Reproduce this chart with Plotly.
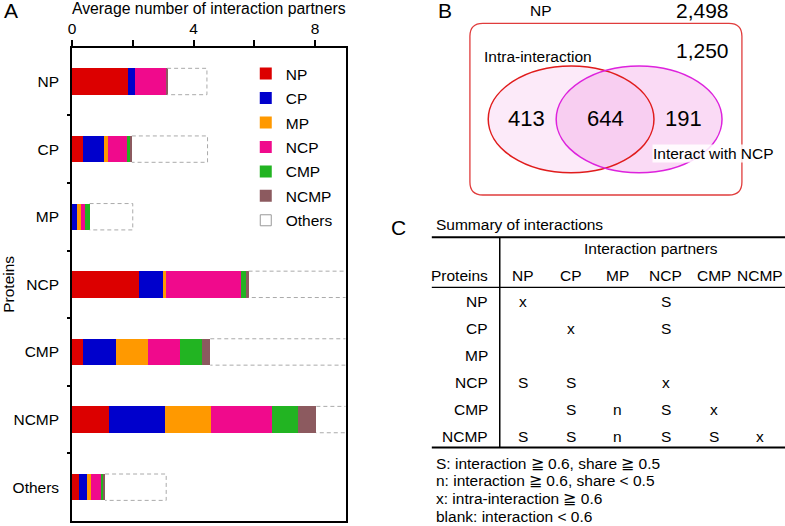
import plotly.graph_objects as go

W, H = 785, 526
FONT = "Liberation Sans, Arial, sans-serif"


def px(x):
    return x / W


def py(y):
    return 1 - y / H


# ---------------- Data: panel A ----------------
categories = ["NP", "CP", "MP", "NCP", "CMP", "NCMP", "Others"]
series_names = ["NP", "CP", "MP", "NCP", "CMP", "NCMP"]
series_colors = ["#dc0000", "#0000cc", "#ff9900", "#f00a8c", "#22b422", "#8c5a5f"]
np_vals = [1.86, 0.35, 0.00, 2.19, 0.35, 1.21, 0.22]
cp_vals = [0.20, 0.69, 0.15, 0.79, 1.11, 1.85, 0.29]
mp_vals = [0.00, 0.14, 0.15, 0.12, 1.05, 1.50, 0.13]
ncp_vals = [1.04, 0.63, 0.12, 2.47, 1.06, 2.03, 0.32]
cmp_vals = [0.00, 0.13, 0.16, 0.14, 0.71, 0.84, 0.07]
ncmp_vals = [0.03, 0.03, 0.00, 0.10, 0.27, 0.61, 0.06]
others_vals = [1.31, 2.49, 1.42, 3.60, 4.90, 1.30, 2.01]
x_tickvals = [0, 2, 4, 6, 8]
x_ticktext = ["0", "", "4", "", "8"]

# ---------------- Data: panel B ----------------
venn_np_total = 2498
venn_subset_total = 1250
venn_counts = [413, 644, 191]
venn_labels = ["Intra-interaction", "Interact with NCP"]

# ---------------- Data: panel C ----------------
table_title = "Summary of interactions"
table_header = "Interaction partners"
table_cols = ["NP", "CP", "MP", "NCP", "CMP", "NCMP"]
table_rows = ["NP", "CP", "MP", "NCP", "CMP", "NCMP"]
table_cells = [
    ["x", "", "", "S", "", ""],
    ["", "x", "", "S", "", ""],
    ["", "", "", "", "", ""],
    ["S", "S", "", "x", "", ""],
    ["", "S", "n", "S", "x", ""],
    ["S", "S", "n", "S", "S", "x"],
]
table_notes = [
    "S: interaction ≧ 0.6, share ≧ 0.5",
    "n: interaction ≧ 0.6, share &lt; 0.5",
    "x: intra-interaction ≧ 0.6",
    "blank: interaction &lt; 0.6",
]

series_values = [np_vals, cp_vals, mp_vals, ncp_vals, cmp_vals, ncmp_vals]

fig = go.Figure()
y_pos = list(range(len(categories)))
bar_w = 0.39

for name, color, vals in zip(series_names, series_colors, series_values):
    fig.add_trace(go.Bar(
        orientation="h", y=y_pos, x=vals, name=name, width=bar_w,
        marker=dict(color=color, line=dict(width=0)), legendgroup=name,
    ))

# Others: dashed open boxes after the stacked segments
bases = [sum(v[i] for v in series_values) for i in range(len(categories))]
xs, ys = [], []
h = bar_w / 2
for i, (b, o) in enumerate(zip(bases, others_vals)):
    e = b + o
    xs += [b, e, e, b, None]
    ys += [i - h, i - h, i + h, i + h, None]
fig.add_trace(go.Scatter(
    x=xs, y=ys, mode="lines", showlegend=False, hoverinfo="skip",
    line=dict(color="#aaaaaa", width=1, dash="4px,3px"),
))
fig.add_trace(go.Scatter(
    x=[None], y=[None], mode="markers", name="Others", legendgroup="Others",
    marker=dict(symbol="square-open", size=11, color="#999999", line=dict(width=1)),
))

fig.update_layout(
    width=W, height=H,
    margin=dict(l=0, r=0, t=0, b=0),
    paper_bgcolor="white", plot_bgcolor="white",
    font=dict(family=FONT, size=15.5, color="black"),
    barmode="stack",
    showlegend=True,
    legend=dict(x=px(243), y=py(57), xanchor="left", yanchor="top",
                font=dict(size=15.5), bgcolor="rgba(0,0,0,0)",
                traceorder="grouped", tracegroupgap=1.3),
    xaxis=dict(
        domain=[px(68.3), px(343.3)], range=[0, 9], side="top",
        tickmode="array", tickvals=x_tickvals, ticktext=x_ticktext,
        ticks="outside", ticklen=6, tickwidth=1.5, tickcolor="black",
        showline=True, linewidth=1.5, linecolor="black", mirror=True,
        showgrid=False, zeroline=False, tickfont=dict(size=15.5),
        title=dict(text="Average number of interaction partners",
                   font=dict(size=15.8), standoff=6),
    ),
    yaxis=dict(
        domain=[py(521), py(47.7)], range=[6.5, -0.5],
        tickmode="array", tickvals=y_pos, ticktext=categories,
        ticks="outside", ticklen=8, tickcolor="rgba(0,0,0,0)",
        minor=dict(tickmode="array", tickvals=[i + 0.5 for i in range(6)],
                   ticks="outside", ticklen=3, tickwidth=1.5, tickcolor="black"),
        showline=True, linewidth=1.5, linecolor="black", mirror=True,
        showgrid=False, zeroline=False, tickfont=dict(size=15.5),
        title=dict(text="Proteins", font=dict(size=15.5), standoff=2),
    ),
)

shapes = []
annos = []


def text(x, y, s, size=15.5, xanchor="center", **kw):
    annos.append(dict(x=px(x), y=py(y), xref="paper", yref="paper", text=s,
                      showarrow=False, xanchor=xanchor, yanchor="middle",
                      font=dict(size=size, family=FONT, color="black"), **kw))


# panel letters
text(7.5, 10, "A", size=21)
text(443, 10, "B", size=21)
text(397, 228, "C", size=21)

# ---------------- Panel B: Venn ----------------
x0, x1, y0, y1, r = 468.3, 741.7, 23.3, 195, 13


def P(x, y):
    return f"{px(x):.5f},{py(y):.5f}"


path = (f"M {P(x0 + r, y0)} L {P(x1 - r, y0)} Q {P(x1, y0)} {P(x1, y0 + r)} "
        f"L {P(x1, y1 - r)} Q {P(x1, y1)} {P(x1 - r, y1)} L {P(x0 + r, y1)} "
        f"Q {P(x0, y1)} {P(x0, y1 - r)} L {P(x0, y0 + r)} Q {P(x0, y0)} {P(x0 + r, y0)} Z")
shapes.append(dict(type="path", path=path, xref="paper", yref="paper",
                   line=dict(color="#e03c3c", width=1.3), fillcolor="white"))

ell = [(486.7, 653.3, 66, 172.7, "rgba(246,196,238,0.35)", "#e01c1c"),
       (555, 721.7, 66, 172.7, "rgba(243,168,232,0.42)", "#dd22dd")]
for ex0, ex1, ey0, ey1, fc, lc in ell:
    shapes.append(dict(type="circle", xref="paper", yref="paper",
                       x0=px(ex0), x1=px(ex1), y0=py(ey1), y1=py(ey0),
                       fillcolor=fc, line=dict(width=0)))
for ex0, ex1, ey0, ey1, fc, lc in ell:
    shapes.append(dict(type="circle", xref="paper", yref="paper",
                       x0=px(ex0), x1=px(ex1), y0=py(ey1), y1=py(ey0),
                       fillcolor="rgba(0,0,0,0)", line=dict(width=1.5, color=lc)))

text(540, 10, "NP")
text(701.7, 10.5, f"{venn_np_total:,}", size=21)
text(701.7, 50, f"{venn_subset_total:,}", size=21)
text(536.7, 57, venn_labels[0])
for cx, c in zip([525, 605, 683.3], venn_counts):
    text(cx, 118.5, str(c), size=22)
text(713, 154, venn_labels[1], bgcolor="rgba(255,255,255,0.85)", borderpad=0)

# ---------------- Panel C: table ----------------
text(431.7, 224, table_title, xanchor="left")
shapes.append(dict(type="line", xref="paper", yref="paper", x0=px(430), x1=px(785),
                   y0=py(237.3), y1=py(237.3), line=dict(color="black", width=2)))
shapes.append(dict(type="line", xref="paper", yref="paper", x0=px(430), x1=px(785),
                   y0=py(287.3), y1=py(287.3), line=dict(color="black", width=1.2)))
shapes.append(dict(type="line", xref="paper", yref="paper", x0=px(430), x1=px(785),
                   y0=py(447.5), y1=py(447.5), line=dict(color="black", width=2)))
shapes.append(dict(type="line", xref="paper", yref="paper", x0=px(498.3), x1=px(498.3),
                   y0=py(237.3), y1=py(447.5), line=dict(color="black", width=1.5)))
text(650, 248, table_header)
col_x = [521.7, 570, 616.7, 665, 713.3, 760]
text(488.5, 275, "Proteins", xanchor="right")
for cx, c in zip(col_x, table_cols):
    text(cx, 275, c)
for i, (rname, row) in enumerate(zip(table_rows, table_cells)):
    ry = 301.7 + 27 * i
    text(488.5, ry, rname, xanchor="right")
    for cx, v in zip(col_x, row):
        if v:
            text(cx, ry, v)
for i, note in enumerate(table_notes):
    text(432, 463 + 17.8 * i, note, xanchor="left")

fig.update_layout(shapes=shapes, annotations=annos)
fig.write_html("out.html",
               config={"displayModeBar": False},
               post_script="document.body.style.margin='0px';document.body.style.overflow='hidden';")
